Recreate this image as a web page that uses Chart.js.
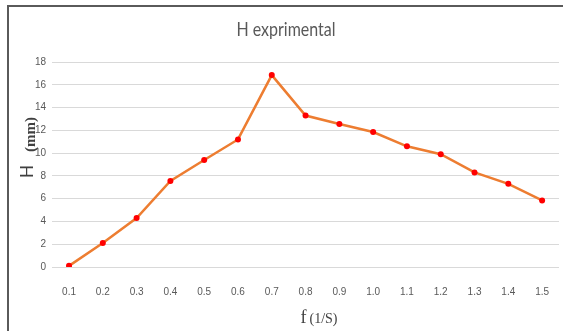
<!DOCTYPE html>
<html>
<head>
<meta charset="utf-8">
<script src="https://cdn.jsdelivr.net/npm/chart.js@4/dist/chart.umd.min.js"></script>
<style>
html,body{margin:0;padding:0;background:#fff;}
#wrap{position:relative;width:563px;height:331px;}
#frame{position:absolute;left:7px;top:5px;right:0;bottom:0;border-top:2px solid #5a5a5a;border-left:2px solid #5a5a5a;pointer-events:none;}
</style>
</head>
<body>
<div id="wrap"><canvas id="c" width="563" height="331"></canvas><div id="frame"></div></div>
<script>
const categories = ['0.1','0.2','0.3','0.4','0.5','0.6','0.7','0.8','0.9','1.0','1.1','1.2','1.3','1.4','1.5'];
const hValues = [0.1, 2.1, 4.3, 7.55, 9.4, 11.2, 16.85, 13.3, 12.55, 11.85, 10.6, 9.9, 8.3, 7.3, 5.85];
const chartTitle = 'H exprimental';
const xTitleMain = 'f';
const xTitleUnit = '(1/S)';
const yTitleMain = 'H';
const yTitleUnit = '(mm)';

const overlay = {
  id: 'overlay',
  afterDraw(chart) {
    const ctx = chart.ctx;
    // chart title
    ctx.save();
    ctx.fillStyle = '#595959';
    ctx.textAlign = 'center';
    ctx.textBaseline = 'alphabetic';
    ctx.translate(286, 36);
    ctx.scale(0.8, 1);
    ctx.font = '20px Lato, sans-serif';
    ctx.fillText(chartTitle, 0, 0);
    ctx.restore();
    // x title
    ctx.save();
    ctx.fillStyle = '#404040';
    ctx.textAlign = 'left';
    ctx.textBaseline = 'alphabetic';
    ctx.font = '18px "Liberation Serif", serif';
    const wf = ctx.measureText(xTitleMain).width;
    ctx.font = '14px "Liberation Serif", serif';
    const wu = ctx.measureText(xTitleUnit).width;
    const xs = 319 - (wf + 3 + wu) / 2;
    ctx.font = '18px "Liberation Serif", serif';
    ctx.fillText(xTitleMain, xs, 323);
    ctx.font = '14px "Liberation Serif", serif';
    ctx.fillText(xTitleUnit, xs + wf + 3, 323);
    ctx.restore();
    // y title
    ctx.save();
    ctx.translate(33, 178);
    ctx.rotate(-Math.PI/2);
    ctx.textAlign = 'left';
    ctx.textBaseline = 'alphabetic';
    ctx.fillStyle = '#404040';
    ctx.font = '17px Lato, sans-serif';
    ctx.fillText(yTitleMain, 0, 0);
    ctx.font = 'bold 15px "Liberation Serif", serif';
    ctx.fillText(yTitleUnit, 26, 2);
    ctx.restore();
  }
};

new Chart(document.getElementById('c'), {
  type: 'line',
  data: {
    labels: categories,
    datasets: [{
      data: hValues,
      borderColor: '#ED7D31',
      borderWidth: 2.5,
      pointBackgroundColor: '#FF0000',
      pointBorderColor: '#FF0000',
      pointRadius: 3,
      pointBorderWidth: 0,
      tension: 0
    }]
  },
  options: {
    responsive: false,
    animation: false,
    devicePixelRatio: 1,
    layout: { padding: { top: 62, left: 29, right: 0, bottom: 22 } },
    plugins: { legend: { display: false }, tooltip: { enabled: false }, title: { display: false } },
    scales: {
      x: {
        offset: true,
        grid: { display: false },
        border: { display: false },
        ticks: { color: '#595959', font: { size: 10, family: '"Liberation Sans Narrow", "Liberation Sans", sans-serif' }, padding: 11, maxRotation: 0 }
      },
      y: {
        min: 0, max: 18,
        grid: { color: '#d9d9d9', lineWidth: 1, drawTicks: false },
        border: { display: false },
        ticks: { stepSize: 2, color: '#595959', font: { size: 10, family: '"Liberation Sans Narrow", "Liberation Sans", sans-serif' }, padding: 6 }
      }
    }
  },
  plugins: [overlay]
});
</script>
</body>
</html>
